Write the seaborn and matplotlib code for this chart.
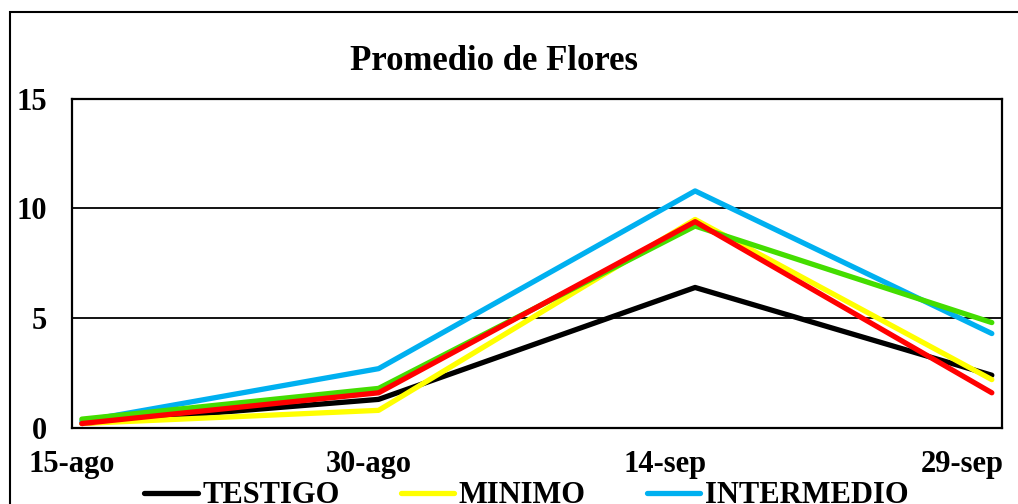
import pandas as pd
import matplotlib.pyplot as plt
import seaborn as sns
from matplotlib.patches import Rectangle
from matplotlib.lines import Line2D

# =========================
# Data
# =========================

fechas = ["2023-08-15", "2023-08-30", "2023-09-15", "2023-09-30"]

testigo = [0.2, 1.3, 6.4, 2.4]
minimo = [0.2, 0.8, 9.5, 2.2]
intermedio = [0.3, 2.7, 10.8, 4.3]
maximo = [0.4, 1.8, 9.2, 4.8]
alto = [0.2, 1.6, 9.4, 1.6]

series = ["TESTIGO", "MINIMO", "INTERMEDIO", "MAXIMO", "ALTO"]
colores = ["#000000", "#FFFF00", "#00B0F0", "#44DD00", "#FF0000"]

tick_dias = [0, 15, 30, 45]
tick_labels = ["15-ago", "30-ago", "14-sep", "29-sep"]

# =========================
# Long format
# =========================

inicio = pd.Timestamp(fechas[0])
dias = [(pd.Timestamp(f) - inicio).days + 0.5 for f in fechas]

rows = []
for name, vals in zip(series, [testigo, minimo, intermedio, maximo, alto]):
    for d, v in zip(dias, vals):
        rows.append({"dia": d, "flores": v, "serie": name})
df = pd.DataFrame(rows)

# =========================
# Plot
# =========================

sns.set_style("white")
plt.rcParams["font.family"] = ["Liberation Serif", "DejaVu Serif"]
plt.rcParams["font.weight"] = "bold"
plt.rcParams["text.color"] = "black"
plt.rcParams["xtick.color"] = "black"
plt.rcParams["ytick.color"] = "black"

fig = plt.figure(figsize=(10.18, 5.04), dpi=100)
ax = fig.add_axes([0.0707, 0.151, 0.984 - 0.0707, 0.804 - 0.151])

sns.lineplot(
    data=df,
    x="dia",
    y="flores",
    hue="serie",
    hue_order=series,
    palette=colores,
    linewidth=3.8,
    legend=False,
    ax=ax,
    zorder=3,
)

ax.set_xlim(0, 47)
ax.set_ylim(0, 15)
ax.set_yticks([0, 5, 10, 15])
ax.set_xticks(tick_dias)
ax.set_xticklabels(tick_labels)
ax.set_xlabel("")
ax.set_ylabel("")

for y in [5, 10]:
    ax.axhline(y, color="black", linewidth=1.3, zorder=1)

for s in ax.spines.values():
    s.set_color("black")
    s.set_linewidth(1.6)

ax.tick_params(axis="x", direction="out", length=7, width=1.5, color="black",
               labelcolor="black", labelsize=22, pad=9)
ax.tick_params(axis="y", length=0, labelcolor="black", labelsize=22, pad=18)
for lab in ax.get_xticklabels() + ax.get_yticklabels():
    lab.set_fontweight("bold")

fig.text(0.4857, 0.877, "Promedio de Flores", ha="center", va="center",
         fontsize=25, fontweight="bold", color="black")

# outer chart border (only top and left visible)
fig.patches.append(Rectangle((10 / 1018, -0.2), 1.2, 0.976 + 0.2,
                             transform=fig.transFigure, fill=False,
                             edgecolor="black", linewidth=1.5, clip_on=False))

# legend, first row visible, second row cut off
handles = [Line2D([], [], color=c, linewidth=3.8) for c in colores]
order = [0, 3, 1, 4, 2]
leg = fig.legend([handles[i] for i in order], [series[i] for i in order],
                 ncol=3, loc="upper center", bbox_to_anchor=(0.517, 0.069),
                 frameon=False, handlelength=1.75, columnspacing=2.0,
                 prop={"weight": "bold", "size": 22}, borderaxespad=0,
                 handletextpad=0.15)
for t in leg.get_texts():
    t.set_color("black")

plt.savefig("out.png", dpi=100)
